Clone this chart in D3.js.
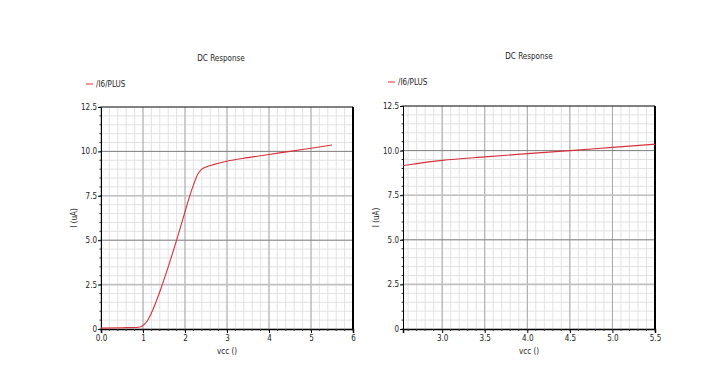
<!DOCTYPE html>
<html>
<head>
<meta charset="utf-8">
<script src="https://cdn.jsdelivr.net/npm/d3@7"></script>
<style>
  body { margin: 0; background: #fff; }
  text { font-family: "Liberation Sans Narrow", "DejaVu Sans Condensed", sans-serif; font-size: 8px; fill: #222; }
</style>
</head>
<body>
<script>
//Width and height
var w = 720;
var h = 375;

//DC sweep data: vcc (V) vs I (uA)
var vcc = [0, 0.5, 0.9, 1.0, 1.1, 1.2, 1.4, 1.6, 1.8, 2.0, 2.1, 2.2, 2.3, 2.4, 2.5, 2.7, 3.0, 3.5, 4.0, 4.5, 5.0, 5.5];
var current = [0.05, 0.07, 0.1, 0.2, 0.45, 0.9, 2.1, 3.5, 5.0, 6.6, 7.4, 8.1, 8.7, 9.0, 9.12, 9.27, 9.45, 9.65, 9.83, 10.0, 10.18, 10.36];

//tick labels
var yTicks = [0, 2.5, 5.0, 7.5, 10.0, 12.5];
var yTickLabels = ["0", "2.5", "5.0", "7.5", "10.0", "12.5"];
var leftXTicks = [0, 1, 2, 3, 4, 5, 6];
var leftXLabels = ["0.0", "1", "2", "3", "4", "5", "6"];
var rightXTicks = [3.0, 3.5, 4.0, 4.5, 5.0, 5.5];
var rightXLabels = ["3.0", "3.5", "4.0", "4.5", "5.0", "5.5"];

var title = "DC Response";
var legendName = "/I6/PLUS";
var xName = "vcc ()";
var yName = "I (uA)";

var data = vcc.map(function(v, i) { return { x: v, y: current[i] }; });

//Create SVG element
var svg = d3.select("body")
			.append("svg")
			.attr("width", w)
			.attr("height", h);

var clipId = 0;

function drawPanel(opts) {
    var g = svg.append("g");
    var x = d3.scaleLinear().domain(opts.xDomain).range([opts.left, opts.right]);
    var y = d3.scaleLinear().domain([0, 12.5]).range([opts.bottom, opts.top]);

    //title and legend
    g.append("text")
     .attr("x", opts.titleX).attr("y", opts.titleY)
     .attr("text-anchor", "middle")
     .text(title);
    g.append("line")
     .attr("x1", opts.legX).attr("x2", opts.legX + 7)
     .attr("y1", opts.legY).attr("y2", opts.legY)
     .attr("stroke", "#e03030").attr("stroke-width", 1);
    g.append("text")
     .attr("x", opts.legX + 10).attr("y", opts.legY + 3)
     .text(legendName);

    //minor grid
    var xMinor = d3.range(Math.ceil(opts.xDomain[0] / opts.xMinorStep), Math.floor(opts.xDomain[1] / opts.xMinorStep) + 1)
                   .map(function(k) { return +(k * opts.xMinorStep).toFixed(3); });
    var yMinor = d3.range(0, 26).map(function(k) { return k * 0.5; });

    g.selectAll(".vmin").data(xMinor).enter().append("line")
     .attr("x1", function(d) { return x(d); }).attr("x2", function(d) { return x(d); })
     .attr("y1", opts.top).attr("y2", opts.bottom)
     .attr("stroke", "#e2e2e2").attr("stroke-width", 1);
    g.selectAll(".hmin").data(yMinor).enter().append("line")
     .attr("x1", opts.left).attr("x2", opts.right)
     .attr("y1", function(d) { return y(d); }).attr("y2", function(d) { return y(d); })
     .attr("stroke", "#e2e2e2").attr("stroke-width", 1);

    //major grid
    g.selectAll(".vmaj").data(opts.xTicks).enter().append("line")
     .attr("x1", function(d) { return x(d); }).attr("x2", function(d) { return x(d); })
     .attr("y1", opts.top).attr("y2", opts.bottom)
     .attr("stroke", "#a8a8a8").attr("stroke-width", 1);
    g.selectAll(".hmaj").data(yTicks.slice(1, 5)).enter().append("line")
     .attr("x1", opts.left).attr("x2", opts.right)
     .attr("y1", function(d) { return y(d); }).attr("y2", function(d) { return y(d); })
     .attr("stroke", function(d, i) { return i % 2 == 0 ? "#c0c0c0" : "#808080"; })
     .attr("stroke-width", function(d, i) { return i % 2 == 0 ? 1.6 : 1; });

    //axes
    var yAxis = d3.axisLeft(y).tickValues(yTicks)
                  .tickFormat(function(d, i) { return yTickLabels[i]; })
                  .tickSize(3).tickPadding(1);
    var gy = g.append("g").attr("transform", "translate(" + opts.left + ",0)").call(yAxis);
    gy.selectAll(".tick text").style("font-size", "8px");
    gy.append("g").selectAll("line").data(yMinor).enter().append("line")
      .attr("x1", -1.5).attr("x2", 0)
      .attr("y1", function(d) { return y(d); }).attr("y2", function(d) { return y(d); })
      .attr("stroke", "#333");

    var xAxis = d3.axisBottom(x).tickValues(opts.xTicks)
                  .tickFormat(function(d, i) { return opts.xLabels[i]; })
                  .tickSize(4).tickPadding(2);
    var gx = g.append("g").attr("transform", "translate(0," + opts.bottom + ")").call(xAxis);
    gx.select(".domain").attr("stroke-width", 1.5);
    gx.append("g").selectAll("line").data(xMinor).enter().append("line")
      .attr("x1", function(d) { return x(d); }).attr("x2", function(d) { return x(d); })
      .attr("y1", 0).attr("y2", 2)
      .attr("stroke", "#333");

    //frame: top and right
    g.append("line").attr("x1", opts.left).attr("x2", opts.right)
     .attr("y1", opts.top).attr("y2", opts.top).attr("stroke", "#111");
    g.append("line").attr("x1", opts.right).attr("x2", opts.right)
     .attr("y1", opts.top).attr("y2", opts.bottom).attr("stroke", "#000").attr("stroke-width", 2);

    //axis titles
    g.append("text")
     .attr("x", (opts.left + opts.right) / 2).attr("y", opts.bottom + 25)
     .attr("text-anchor", "middle").text(xName);
    g.append("text")
     .attr("transform", "translate(" + (opts.left - 24) + "," + ((opts.top + opts.bottom) / 2) + ") rotate(-90)")
     .attr("text-anchor", "middle").text(yName);

    //curve, clipped to the plot area
    clipId++;
    svg.append("clipPath").attr("id", "clip" + clipId)
       .append("rect").attr("x", opts.left).attr("y", opts.top)
       .attr("width", opts.right - opts.left).attr("height", opts.bottom - opts.top);

    var line = d3.line()
                 .x(function(d) { return x(d.x); })
                 .y(function(d) { return y(d.y); })
                 .curve(d3.curveMonotoneX);
    g.append("path")
     .datum(data)
     .attr("clip-path", "url(#clip" + clipId + ")")
     .attr("d", line)
     .attr("fill", "none")
     .attr("stroke", "#d8303a")
     .attr("stroke-width", 1.1);
}

//left panel: full sweep
drawPanel({
    xDomain: [0, 6], xTicks: leftXTicks, xLabels: leftXLabels, xMinorStep: 0.2,
    left: 101, right: 353, top: 107, bottom: 329,
    titleX: 221, titleY: 61, legX: 86, legY: 84
});

//right panel: zoomed in on the saturation region
drawPanel({
    xDomain: [2.54, 5.5], xTicks: rightXTicks, xLabels: rightXLabels, xMinorStep: 0.1,
    left: 403, right: 655, top: 106, bottom: 329,
    titleX: 529, titleY: 59, legX: 388, legY: 82
});
</script>
</body>
</html>
